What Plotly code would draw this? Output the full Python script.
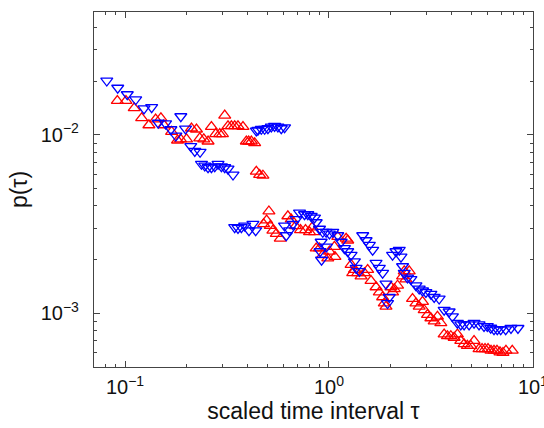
import plotly.graph_objects as go

# Red series (open up-triangles)
tau_red = [0.0917, 0.1011, 0.111, 0.1207, 0.131, 0.1413, 0.15, 0.1551, 0.1692, 0.181,
           0.1872, 0.2003, 0.2118, 0.2241, 0.2326, 0.2434, 0.2554, 0.2653, 0.2785, 0.2914,
           0.3004, 0.3083, 0.3199, 0.3324, 0.345, 0.3581, 0.3788, 0.3935, 0.4039, 0.4164,
           0.4322, 0.4405, 0.4572, 0.4745,
           0.4783, 0.4947, 0.5077, 0.5157, 0.5311, 0.5519, 0.5772, 0.6289, 0.6534, 0.6859,
           0.7255, 0.7676, 0.803, 0.8278, 0.8495, 0.8659, 0.8987, 0.9326, 0.9866, 1.0056,
           1.064, 1.07, 1.1047, 1.214, 1.236, 1.284, 1.308, 1.333, 1.383, 1.437,
           1.492, 1.548, 1.608, 1.702, 1.766, 1.833, 1.868, 1.904, 2.014, 2.051,
           2.091, 2.17, 2.296, 2.34, 2.385, 2.475, 2.569, 2.67, 2.77, 2.876,
           2.931, 3.042, 3.161, 3.281, 3.404, 3.537, 3.671, 3.81, 3.959, 4.109,
           4.264, 4.43, 4.598, 4.772, 4.958, 5.146, 5.444, 5.632, 5.824, 6.025,
           6.232, 6.446, 6.667, 6.896, 7.133, 7.378, 7.921]
p_red = [0.01552, 0.01552, 0.01414, 0.01242, 0.01134, 0.01222, 0.01242, 0.01134, 0.01042, 0.00931,
         0.00946, 0.00946, 0.01087, 0.01073, 0.00958, 0.00946, 0.00919, 0.0111, 0.01012, 0.01012,
         0.01012, 0.01285, 0.0112, 0.0112, 0.0112, 0.0112, 0.0111, 0.00919, 0.00919, 0.00919,
         0.009, 0.00623, 0.00597, 0.00592,
         0.00316, 0.00332, 0.00373, 0.00309, 0.00291, 0.00279, 0.00262, 0.0035, 0.00336, 0.00308,
         0.00293, 0.00293, 0.00285, 0.00303, 0.00285, 0.00231, 0.00231, 0.00212, 0.00203, 0.00222,
         0.00236, 0.00207, 0.00268, 0.00262, 0.00256, 0.00187, 0.00168, 0.00175, 0.00168, 0.00161,
         0.00168, 0.00175, 0.00152, 0.0014, 0.00131, 0.00123, 0.001136, 0.00109, 0.0014, 0.00131,
         0.001365, 0.00143, 0.00161, 0.00172, 0.00155, 0.00172, 0.001204, 0.001136, 0.00109, 0.00116,
         0.001042, 0.000979, 0.000938, 0.0009, 0.000958, 0.000881, 0.000761, 0.000745, 0.000745, 0.000729,
         0.000761, 0.0007, 0.000671, 0.000657, 0.000657, 0.0007, 0.00063, 0.00063, 0.00063, 0.00063,
         0.000617, 0.000617, 0.000617, 0.000604, 0.0006, 0.000617, 0.000617]

# Blue series (open down-triangles)
tau_blue = [0.0814, 0.0921, 0.1026, 0.1128, 0.1239, 0.1351, 0.1455, 0.1581, 0.1679, 0.1776,
            0.1878, 0.1981, 0.2101, 0.2199, 0.2334, 0.2371, 0.2461, 0.2554, 0.2653, 0.2754,
            0.2859, 0.297, 0.3083, 0.3199, 0.3385,
            0.4405, 0.4485, 0.466, 0.4837, 0.502, 0.5216, 0.5414, 0.5619, 0.5838, 0.6059,
            0.345, 0.3581, 0.372, 0.3861, 0.4053, 0.424, 0.4371,
            0.6059, 0.6176, 0.641, 0.6654, 0.6913, 0.7174, 0.759, 0.7878, 0.8185, 0.8495,
            0.8659, 0.8987, 0.905, 0.916, 0.92, 0.9326, 0.969, 0.972, 1.0056, 1.0439,
            1.1047, 1.1477, 1.191, 1.236, 1.284, 1.333, 1.359, 1.41, 1.464, 1.521,
            1.578, 1.638, 1.702, 1.766, 1.833, 1.904, 1.938, 1.976, 2.051, 2.131,
            2.212, 2.255, 2.296, 2.34, 2.428, 2.523, 2.67, 2.77, 2.876, 2.988,
            3.161, 3.281, 3.47, 3.671, 3.884, 4.031, 4.264, 4.43, 4.598, 4.864,
            5.146, 5.444, 5.759, 5.978, 6.211, 6.446, 6.69, 6.951, 7.353, 7.807, 8.447]
p_blue = [0.0201, 0.01834, 0.01686, 0.01578, 0.01404, 0.01427, 0.01167, 0.01157, 0.01073, 0.00988,
          0.01269, 0.01083, 0.00863, 0.00811, 0.00801, 0.00686, 0.00671, 0.00657, 0.00657, 0.00665,
          0.00686, 0.00665, 0.00657, 0.00645, 0.00597,
          0.01055, 0.01065, 0.01078, 0.01078, 0.01087, 0.0111, 0.0112, 0.0111, 0.01087, 0.011,
          0.00303, 0.003, 0.00303, 0.00309, 0.00291, 0.00316, 0.00291,
          0.00309, 0.00273, 0.00291, 0.00316, 0.00336, 0.00366, 0.00358, 0.00358, 0.0035, 0.00343,
          0.00323, 0.00297, 0.00222, 0.00251, 0.00199, 0.00285, 0.00285, 0.00236, 0.00279, 0.00285,
          0.00273, 0.00251, 0.00231, 0.00222, 0.00212, 0.00195, 0.00179, 0.00172, 0.00273, 0.00256,
          0.00241, 0.00226, 0.00191, 0.00179, 0.00168, 0.00146, 0.001136, 0.00123, 0.00212, 0.00222,
          0.00226, 0.00207, 0.00183, 0.00168, 0.00158, 0.00155, 0.00143, 0.00137, 0.001338, 0.00131,
          0.001282, 0.00123, 0.001204, 0.001042, 0.00102, 0.000958, 0.000881, 0.000863, 0.000863, 0.000863,
          0.000881, 0.000863, 0.000845, 0.000845, 0.000827, 0.00081, 0.00081, 0.00081, 0.00081, 0.000824, 0.000824]

x_tickvals = [0.1, 1, 10]
x_ticktext = ["10<sup>\u22121</sup>", "10<sup>0</sup>", "10<sup>1</sup>"]
x_minor = [0.08, 0.09, 0.2, 0.3, 0.4, 0.5, 0.6, 0.7, 0.8, 0.9, 2, 3, 4, 5, 6, 7, 8, 9]
y_tickvals = [0.001, 0.01]
y_ticktext = ["10<sup>\u22123</sup>", "10<sup>\u22122</sup>"]
y_minor = [0.0006, 0.0007, 0.0008, 0.0009, 0.002, 0.003, 0.004, 0.005, 0.006, 0.007,
           0.008, 0.009, 0.02, 0.03, 0.04]

FONT = "Liberation Sans, Arial, Helvetica, sans-serif"

fig = go.Figure()
fig.add_trace(go.Scatter(x=tau_red, y=p_red, mode="markers",
                         marker=dict(symbol="triangle-up-open", size=10.5, color="#ff0000",
                                     line=dict(width=1.3, color="#ff0000"))))
fig.add_trace(go.Scatter(x=tau_blue, y=p_blue, mode="markers",
                         marker=dict(symbol="triangle-down-open", size=10.5, color="#0000ff",
                                     line=dict(width=1.3, color="#0000ff"))))

axis_common = dict(type="log", showgrid=False, zeroline=False, showline=True,
                   linecolor="#444444", linewidth=1.3, mirror="allticks",
                   ticks="inside", ticklen=6, tickwidth=1, tickcolor="#444444",
                   ticklabeloverflow="allow",
                   tickfont=dict(family=FONT, size=20, color="#111111"))

fig.update_xaxes(**axis_common, automargin="height", range=[-1.152, 1.0005],
                 tickmode="array", tickvals=x_tickvals, ticktext=x_ticktext,
                 ticklabelstandoff=2,
                 minor=dict(tickmode="array", tickvals=x_minor, ticks="inside",
                            ticklen=3, tickwidth=1, tickcolor="#444444"),
                 title=dict(text="scaled time interval \u03c4",
                            font=dict(family=FONT, size=23, color="#111111"), standoff=4))
fig.update_yaxes(**axis_common, automargin=True, range=[-3.302, -1.311],
                 tickmode="array", tickvals=y_tickvals, ticktext=y_ticktext,
                 ticklabelstandoff=10,
                 minor=dict(tickmode="array", tickvals=y_minor, ticks="inside",
                            ticklen=3, tickwidth=1, tickcolor="#444444"),
                 title=dict(text="p(\u03c4)",
                            font=dict(family=FONT, size=23, color="#111111"), standoff=6))

fig.update_layout(width=544, height=428, showlegend=False,
                  margin=dict(l=94, r=10, t=12, b=51),
                  paper_bgcolor="white", plot_bgcolor="white")

fig.write_html("out.html")
